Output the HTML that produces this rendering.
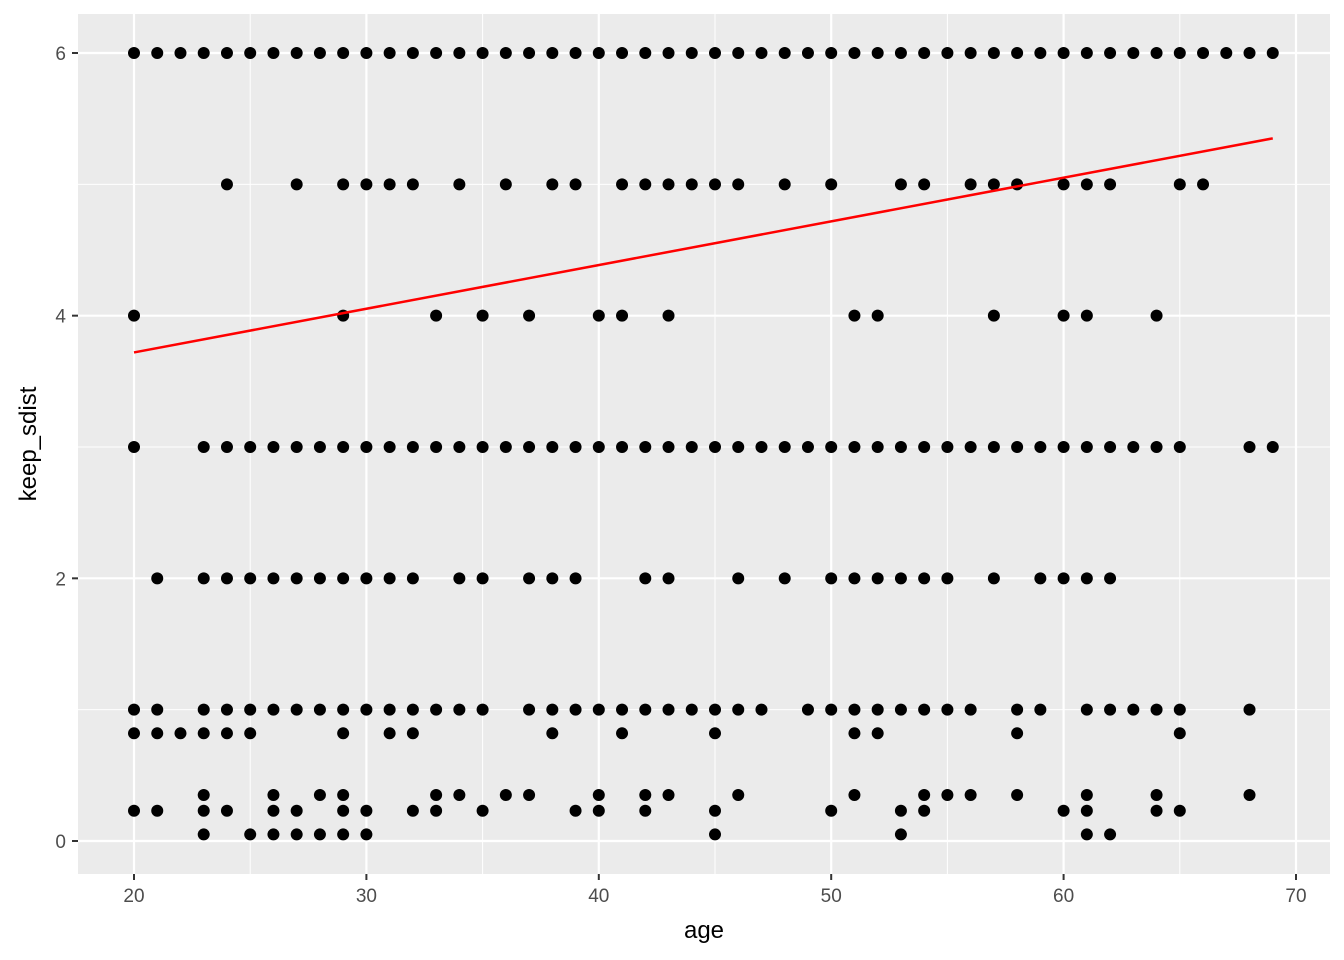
<!DOCTYPE html>
<html><head><meta charset="utf-8"><style>
html,body{margin:0;padding:0;background:#fff;}
svg{display:block;font-family:"Liberation Sans",sans-serif;}
</style></head><body>
<svg id="chart" width="1344" height="960"></svg>
<script>
const yLevels=[6,5,4,3,2,1,0.82,0.35,0.23,0.05];
const ages6=[20,21,22,23,24,25,26,27,28,29,30,31,32,33,34,35,36,37,38,39,40,41,42,43,44,45,46,47,48,49,50,51,52,53,54,55,56,57,58,59,60,61,62,63,64,65,66,67,68,69];
const ages5=[24,27,29,30,31,32,34,36,38,39,41,42,43,44,45,46,48,50,53,54,56,57,58,60,61,62,65,66];
const ages4=[20,29,33,35,37,40,41,43,51,52,57,60,61,64];
const ages3=[20,23,24,25,26,27,28,29,30,31,32,33,34,35,36,37,38,39,40,41,42,43,44,45,46,47,48,49,50,51,52,53,54,55,56,57,58,59,60,61,62,63,64,65,68,69];
const ages2=[21,23,24,25,26,27,28,29,30,31,32,34,35,37,38,39,42,43,46,48,50,51,52,53,54,55,57,59,60,61,62];
const ages1=[20,21,23,24,25,26,27,28,29,30,31,32,33,34,35,37,38,39,40,41,42,43,44,45,46,47,49,50,51,52,53,54,55,56,58,59,61,62,63,64,65,68];
const ages082=[20,21,22,23,24,25,29,31,32,38,41,45,51,52,58,65];
const ages035=[23,26,28,29,33,34,36,37,40,42,43,46,51,54,55,56,58,61,64,68];
const ages023=[20,21,23,24,26,27,29,30,32,33,35,39,40,42,45,50,53,54,60,61,64,65];
const ages005=[23,25,26,27,28,29,30,45,53,61,62];
const rows=[ages6,ages5,ages4,ages3,ages2,ages1,ages082,ages035,ages023,ages005];
const fitX=[20,69];
const fitY=[3.72,5.35];
const xTicks=[20,30,40,50,60,70];
const yTicks=[0,2,4,6];

const NS="http://www.w3.org/2000/svg";
const svg=document.getElementById('chart');
const X=v=>134+(v-20)*(1296-134)/50;
const Y=v=>841-v*(841-53)/6;
function mk(tag,attrs,parent){const e=document.createElementNS(NS,tag);for(const k in attrs)e.setAttribute(k,attrs[k]);(parent||svg).appendChild(e);return e;}

const panel=mk('rect',{x:78,y:14,width:1252,height:860,fill:'#ebebeb'});


// minor grid
[25,35,45,55,65].forEach(v=>{const l=mk('line',{x1:X(v),x2:X(v),y1:14,y2:874,stroke:'#fff','stroke-width':1});

});
[1,3,5].forEach(v=>{const l=mk('line',{x1:78,x2:1330,y1:Y(v),y2:Y(v),stroke:'#fff','stroke-width':1});

});
xTicks.forEach(v=>{const l=mk('line',{x1:X(v),x2:X(v),y1:14,y2:874,stroke:'#fff','stroke-width':2.2});


const t=mk('line',{x1:X(v),x2:X(v),y1:874,y2:880,stroke:'#333','stroke-width':2});


const tx=mk('text',{x:X(v),y:902,'text-anchor':'middle','font-size':19,fill:'#4d4d4d'});tx.textContent=v;

});
yTicks.forEach(v=>{const l=mk('line',{x1:78,x2:1330,y1:Y(v),y2:Y(v),stroke:'#fff','stroke-width':2.2});


const t=mk('line',{x1:72,x2:78,y1:Y(v),y2:Y(v),stroke:'#333','stroke-width':2});


const tx=mk('text',{x:66,y:Y(v)+7,'text-anchor':'end','font-size':19,fill:'#4d4d4d'});tx.textContent=v;

});
rows.forEach((r,i)=>r.forEach(a=>{const c=mk('circle',{cx:X(a),cy:Y(yLevels[i]),r:6,fill:'#000'});

}));
const fl=mk('line',{x1:X(fitX[0]),y1:Y(fitY[0]),x2:X(fitX[1]),y2:Y(fitY[1]),stroke:'#ff0000','stroke-width':2.5});


const xt=mk('text',{x:704,y:938,'text-anchor':'middle','font-size':24,fill:'#000'});xt.textContent='age';


const yt=mk('text',{x:0,y:0,'text-anchor':'middle','font-size':24,fill:'#000',transform:'translate(36,444) rotate(-90)'});yt.textContent='keep_sdist';


</script>
</body></html>
